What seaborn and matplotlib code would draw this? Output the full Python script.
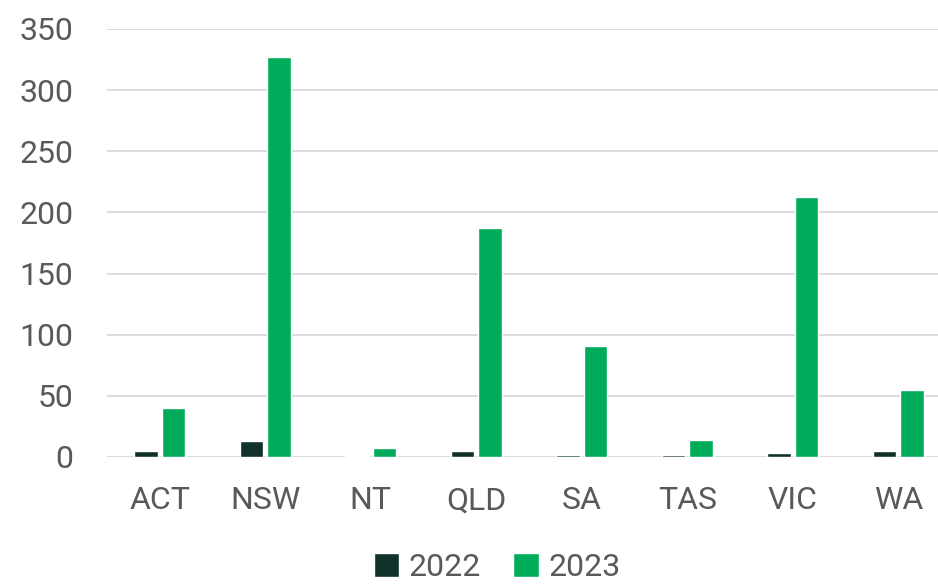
import pandas as pd
import seaborn as sns
import matplotlib.pyplot as plt

# data
states = ["ACT", "NSW", "NT", "QLD", "SA", "TAS", "VIC", "WA"]
years = ["2022", "2023"]
vals_2022 = [5, 13, 1, 5, 2, 2, 3, 5]
vals_2023 = [40, 327, 7, 187, 91, 14, 213, 55]

df = pd.DataFrame({
    "state": states * 2,
    "year": [years[0]] * len(states) + [years[1]] * len(states),
    "value": vals_2022 + vals_2023,
})

sns.set_theme(style="white")
plt.rcParams["font.family"] = ["Roboto", "DejaVu Sans"]

fig = plt.figure(figsize=(9.38, 5.86), dpi=100)
# axes run a bit past the right edge, like the original crop
ax = fig.add_axes([107 / 938, 1 - 457 / 586, (951 - 107) / 938, (457 - 29) / 586])

sns.barplot(data=df, x="state", y="value", hue="year",
            palette=["#10302A", "#00AC5A"], width=0.52, gap=0.15,
            saturation=1, ax=ax, zorder=3)

ax.set_ylim(0, 350)
ax.set_yticks(range(0, 351, 50))
ax.set_xlim(-0.5, len(states) - 0.5)
ax.yaxis.grid(True, color="#D9D9D9", linewidth=1.3, zorder=0)
ax.set_axisbelow(True)
for s in ax.spines.values():
    s.set_visible(False)
ax.set_xlabel("")
ax.set_ylabel("")
ax.tick_params(axis="both", length=0, labelsize=23, labelcolor="#595959")
ax.tick_params(axis="y", pad=24)
ax.tick_params(axis="x", pad=21)

ax.legend(loc="center", bbox_to_anchor=((497 - 107) / 844, -0.258),
          ncol=2, frameon=False, fontsize=23, labelcolor="#595959",
          handlelength=0.8, handleheight=0.8, handletextpad=0.3,
          columnspacing=1.0)

fig.savefig("out.png", dpi=100)
